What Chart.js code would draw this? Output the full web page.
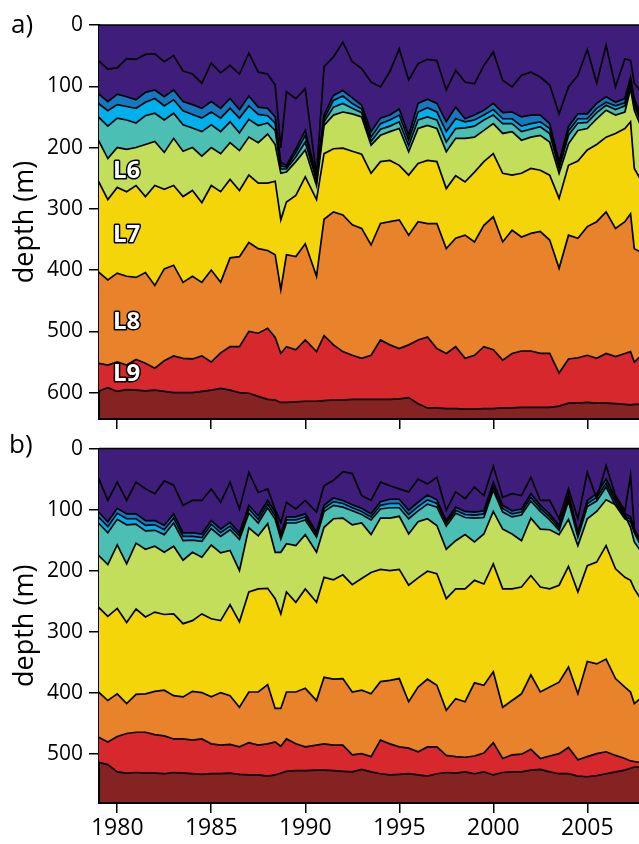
<!DOCTYPE html>
<html><head><meta charset="utf-8">
<script src="https://cdn.jsdelivr.net/npm/chart.js@4"></script>
<style>
html,body{margin:0;padding:0;background:#fff;width:639px;height:844px;overflow:hidden;}
.panel{position:absolute;left:0;width:639px;}
#wa{top:0;height:440px;}
#wb{top:430px;height:414px;}
</style></head><body>
<div class="panel" id="wa"><canvas id="ca"></canvas></div>
<div class="panel" id="wb"><canvas id="cb"></canvas></div>
<script>
const years = [1979,1979.5,1980,1980.5,1981,1981.5,1982,1982.5,1983,1983.5,1984,1984.5,1985,1985.5,1986,1986.5,1987,1987.5,1988,
1988.4,1988.7,1989,1989.5,1990,1990.6,
1991,1991.5,1992,1992.5,1993,1993.5,1994,1994.5,1995,1995.5,1996,1996.5,1997,1997.5,1998,
1998.5,1999,1999.5,2000,2000.5,2001,2001.5,2002,2002.5,2003,2003.5,2004,2004.5,2005,2005.5,2006,2006.5,2007,2007.3,2007.5,2008];
const xTicks = [1980,1985,1990,1995,2000,2005];
const yTicksA = [0,100,200,300,400,500,600];
const yTicksB = [0,100,200,300,400,500];

// panel a: interface depths (m)
const a1 = [58,72,70,55,56,48,47,60,50,75,80,95,62,78,66,80,46,77,80, 98,200, 109,120,104,245,
 68,52,28,60,71,93,101,76,39,90,63,56,58,106,74,
 93,96,66,44,90,101,82,77,85,98,145,101,82,40,95,33,101,55,58,95,115];
const a2 = [112,125,113,117,122,110,106,117,106,125,130,136,125,136,120,138,116,134,136, 150,225, 229,202,172,248,
 147,115,107,119,131,174,152,147,137,180,128,121,128,158,134,
 153,147,139,128,143,142,150,147,147,161,223,166,145,145,128,117,126,120,85,120,158];
const a3 = [128,140,130,133,136,126,120,132,122,140,146,152,142,152,136,152,132,146,148, 160,230, 232,208,180,251,
 153,123,116,128,137,183,161,155,147,188,142,135,142,174,153,
 158,155,147,138,153,153,165,161,158,169,229,173,153,153,136,126,132,127,93,126,164];
const a4 = [150,165,152,155,160,148,144,155,144,163,168,174,163,174,158,176,154,164,160, 172,235, 235,215,191,254,
 158,134,128,136,143,190,170,165,158,197,155,150,155,191,169,
 168,165,155,147,161,161,174,170,166,177,234,180,160,159,143,131,138,132,98,131,169];
const a5 = [188,218,200,203,200,195,190,208,185,206,200,214,200,210,192,205,183,192,178, 195,242, 240,223,204,262,
 164,147,142,145,150,196,180,174,169,207,169,164,169,207,185,
 185,183,172,161,177,174,188,183,180,191,242,194,172,169,153,139,147,142,104,139,177];
const a6 = [255,285,265,272,262,280,262,268,262,280,270,290,262,272,252,270,245,258,258, 255,318, 289,278,248,285,
 210,202,201,206,211,242,223,221,229,245,226,221,223,267,246,
 256,240,223,210,242,245,242,234,237,245,283,229,222,204,195,183,177,169,158,234,261];
const a7 = [403,416,405,410,412,404,425,398,392,420,410,420,400,420,380,378,355,365,368, 375,432, 375,378,357,410,
 317,305,310,326,332,359,324,321,318,343,321,324,324,365,348,
 343,354,327,313,354,335,346,340,337,351,397,343,348,329,321,305,332,321,308,365,373];
const a8 = [552,555,550,555,546,552,560,548,540,544,545,540,550,535,525,525,500,503,495, 510,536, 525,530,514,533,
 507,522,533,539,544,539,514,522,528,522,514,509,528,536,525,
 544,539,525,530,547,536,532,532,536,536,568,545,543,539,544,536,541,536,533,550,536];
const a9 = [598,592,598,595,596,597,596,598,600,600,600,598,596,593,596,600,601,606,611, 612,616, 616,615,614,614,
 613,612,612,611,611,611,611,611,610,608,618,625,625,626,626,
 627,627,626,626,625,625,624,624,624,624,622,617,617,616,617,617,618,619,620,619,619];

// panel b: interface depths (m)
const b1 = [48,85,55,85,55,66,74,53,60,93,85,85,66,88,55,99,39,72,66, 100,121, 88,99,85,104,
 61,52,38,41,77,85,55,61,66,71,50,58,47,101,71,
 82,63,77,29,80,74,77,47,85,85,115,66,115,39,82,28,77,102,44,132,160];
const b2 = [104,120,98,107,107,118,118,126,107,138,138,140,118,132,121,138,93,110,85, 104,140, 112,112,107,137,
 93,81,85,92,98,107,87,83,83,101,88,76,84,118,96,
 103,104,102,55,93,102,99,74,93,107,126,74,137,85,74,50,82,107,112,132,164];
const b3 = [112,128,106,115,115,126,125,133,114,144,144,146,124,138,127,143,99,116,91, 110,144, 117,117,112,141,
 98,87,90,97,103,112,93,90,90,108,95,84,90,122,101,
 108,109,107,62,98,107,104,80,98,112,130,80,141,90,80,57,87,111,116,135,166];
const b4 = [122,138,116,125,124,135,134,141,122,151,150,152,131,144,133,149,106,122,97, 116,148, 122,122,117,145,
 103,93,96,102,108,117,99,97,97,115,102,91,96,127,106,
 113,114,113,68,104,112,109,86,103,117,134,86,145,95,86,63,93,115,120,138,168];
const b5 = [175,190,158,189,155,165,160,170,160,183,170,178,158,171,167,200,130,143,123, 170,170, 156,159,141,170,
 129,115,114,125,122,141,114,114,111,140,120,115,126,165,151,
 141,153,140,103,132,140,151,114,132,133,141,116,159,115,103,84,92,109,129,153,175];
const b6 = [260,275,262,285,263,276,268,272,271,287,282,271,279,282,256,284,235,230,229, 246,271, 235,252,230,252,
 211,215,207,223,213,203,198,200,198,224,212,201,205,246,230,
 230,216,222,189,230,230,227,208,227,230,224,193,235,192,186,159,197,211,216,230,254];
const b7 = [399,413,402,418,403,402,398,396,405,407,398,400,407,400,405,424,399,399,387, 426,426, 399,399,393,413,
 375,378,377,399,396,402,382,380,377,415,391,378,388,429,410,
 415,384,388,366,424,413,402,371,399,391,383,358,402,349,353,345,377,391,399,418,405];
const b8 = [473,481,472,467,465,465,469,471,476,476,478,476,484,486,485,489,482,486,484, 481,488, 476,484,489,486,
 484,486,486,502,500,505,478,484,489,491,497,489,489,503,505,
 506,504,499,482,508,502,501,493,508,504,500,490,510,505,500,497,503,508,512,513,516];
const b9 = [514,518,530,532,531,532,532,533,531,532,533,534,533,533,532,534,535,535,537, 535,532, 529,528,528,527,
 527,528,529,530,526,530,533,535,534,533,535,537,533,531,532,
 530,533,530,535,531,530,530,527,526,530,533,533,537,538,536,533,530,527,524,522,522];

const layerColors = ['#3f1d7b','#3f1d7b','#1479bf','#00b0ec','#4bbfb4','#c2de5a','#f3d50a','#e8832b','#d6282d'];
const bottomColor = '#842322';
const layerLabels = ['L6','L7','L8','L9'];
const layerLabelDepths = [238,343,485,570];
const layerLabelYear = 1979.77;

const xMin = 1979.03, xMax = 2007.75;
const FONT = "'Open Sans', sans-serif";
Chart.defaults.font.family = FONT;
Chart.defaults.color = '#000';

function framePlugin(panelText, tx, ty, withLabels) {
  return {
    id: 'frame' + panelText,
    beforeDraw(chart) {
      const {ctx, chartArea: a} = chart;
      ctx.save();
      ctx.fillStyle = bottomColor;
      ctx.fillRect(a.left, a.top, a.right - a.left, a.bottom - a.top);
      ctx.restore();
    },
    afterDatasetsDraw(chart) {
      if (!withLabels) return;
      const {ctx} = chart;
      const xs = chart.scales.x, ys = chart.scales.y;
      ctx.save();
      ctx.font = "bold 24px " + FONT;
      ctx.textBaseline = 'middle';
      ctx.textAlign = 'left';
      ctx.lineJoin = 'round';
      ctx.lineWidth = 3;
      ctx.strokeStyle = '#000';
      ctx.fillStyle = '#fff';
      layerLabels.forEach((t, i) => {
        const x = xs.getPixelForValue(layerLabelYear);
        const y = ys.getPixelForValue(layerLabelDepths[i]);
        ctx.strokeText(t, x, y);
        ctx.fillText(t, x, y);
      });
      ctx.restore();
    },
    afterDraw(chart) {
      const {ctx, chartArea: a} = chart;
      ctx.save();
      ctx.strokeStyle = '#000';
      ctx.lineWidth = 1.5;
      ctx.beginPath();
      ctx.moveTo(a.left, a.top);
      ctx.lineTo(a.right, a.top);
      ctx.stroke();
      ctx.fillStyle = '#000';
      ctx.font = "26px " + FONT;
      ctx.textBaseline = 'alphabetic';
      ctx.fillText(panelText, tx, ty);
      ctx.restore();
    }
  };
}

function buildChart(id, lines, o) {
  const datasets = lines.map((arr, i) => ({
    data: arr.map((v, j) => ({x: years[j], y: v})),
    borderColor: '#000', borderWidth: 1.7, pointRadius: 0, pointHitRadius: 0,
    tension: 0, backgroundColor: layerColors[i], fill: i === 0 ? 'end' : '-1', clip: 0
  }));
  return new Chart(document.getElementById(id), {
    type: 'line',
    data: {datasets},
    options: {
      responsive: true, maintainAspectRatio: false, animation: false,
      events: [],
      layout: {padding: {top: o.padTop, right: 0, bottom: 0, left: 0}},
      plugins: {legend: {display: false}, tooltip: {enabled: false},
        filler: {drawTime: 'beforeDatasetsDraw', propagate: false}},
      scales: {
        x: {type: 'linear', min: xMin, max: xMax, z: 1,
          afterBuildTicks: s => { s.ticks = xTicks.map(v => ({value: v})); },
          afterFit: s => { s.height = o.xH; },
          ticks: {display: o.showX, font: {size: 23}, color: '#000', padding: 2, maxRotation: 0, autoSkip: false,
            callback: v => String(v)},
          grid: {drawOnChartArea: false, drawTicks: true, tickLength: 10, color: '#000', lineWidth: 1.5},
          border: {display: true, color: '#000', width: 2}},
        y: {type: 'linear', reverse: true, min: 0, max: o.yMax, z: 1,
          afterBuildTicks: s => { s.ticks = o.yTicks.map(v => ({value: v})); },
          afterFit: s => { s.width = 99; },
          ticks: {font: {size: 21}, color: '#000', padding: 6, autoSkip: false, callback: v => String(v)},
          grid: {drawOnChartArea: false, drawTicks: true, tickLength: 10, color: '#000', lineWidth: 1.5},
          border: {display: true, color: '#000', width: 2},
          title: {display: true, text: 'depth (m)', font: {size: 27}, color: '#000', padding: {top: 9, bottom: 0}}}
      }
    },
    plugins: [framePlugin(o.label, o.lx, o.ly, o.withLabels)]
  });
}

buildChart('ca', [a1,a2,a3,a4,a5,a6,a7,a8,a9],
  {padTop: 25, xH: 21, showX: false, yMax: 643, yTicks: yTicksA, label: 'a)', lx: 11, ly: 33, withLabels: true});
buildChart('cb', [b1,b2,b3,b4,b5,b6,b7,b8,b9],
  {padTop: 18, xH: 41, showX: true, yMax: 581, yTicks: yTicksB, label: 'b)', lx: 9, ly: 23, withLabels: false});
</script>
</body></html>
